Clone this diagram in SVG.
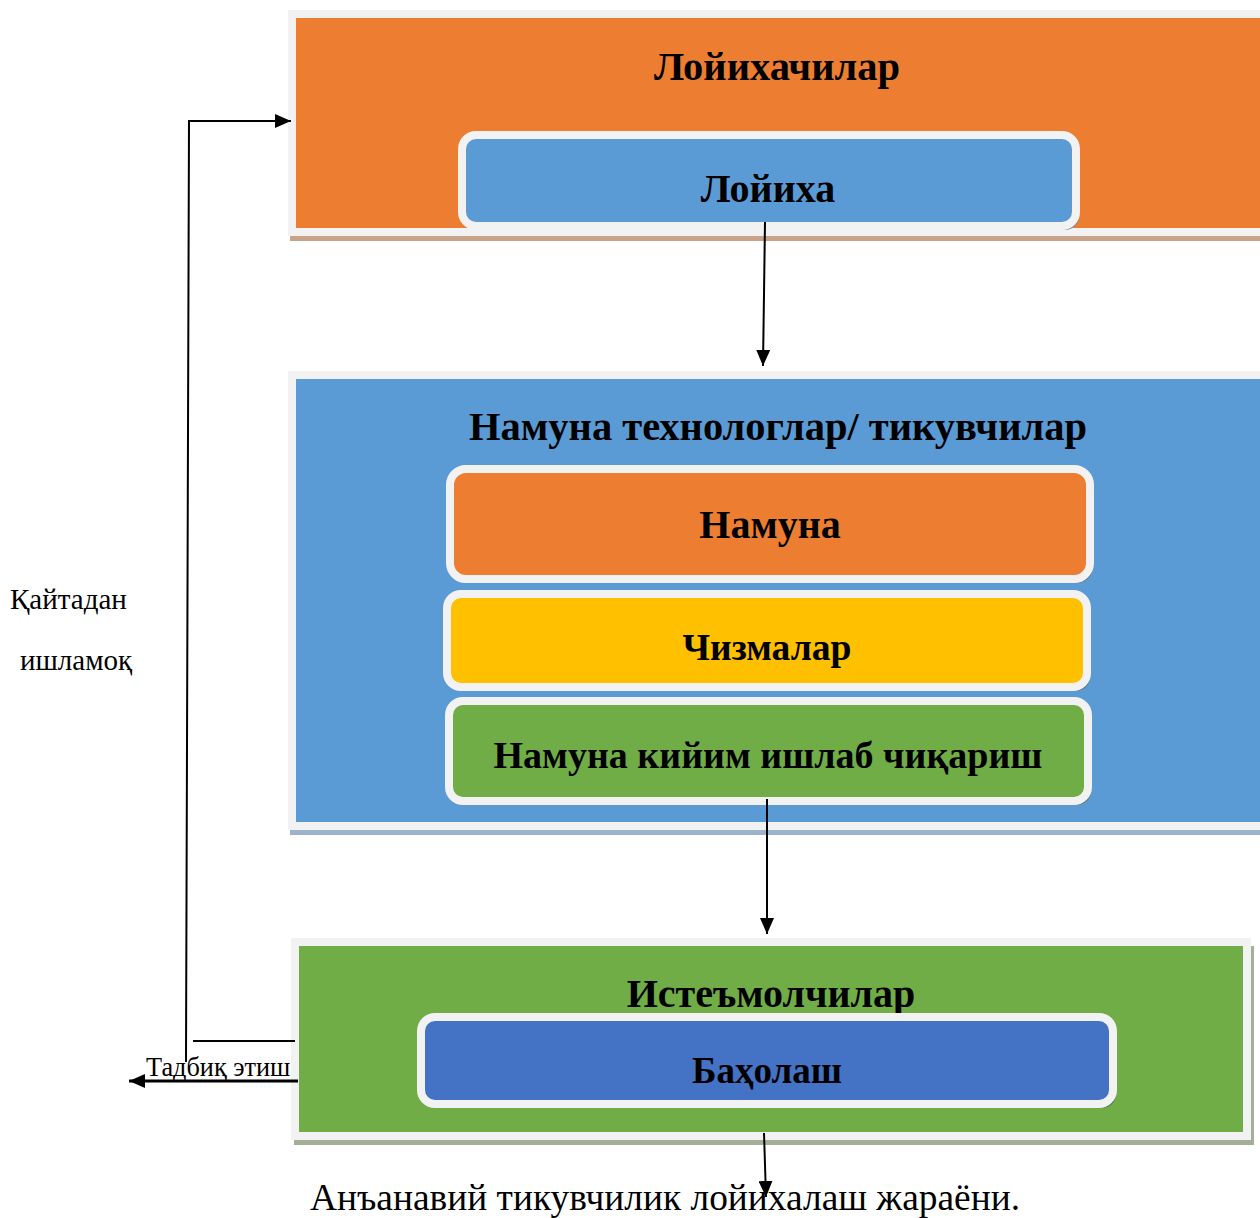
<svg xmlns="http://www.w3.org/2000/svg" width="1260" height="1218" viewBox="0 0 1260 1218">
<defs>
<style>
.big{stroke:#F2F2F2;stroke-width:8}
.inner{stroke:#F2F2F2;stroke-width:8}
.t{font-family:"Liberation Serif","Times New Roman",serif;font-weight:bold;fill:#000;text-anchor:middle;font-size:40.5px}
.n{font-family:"Liberation Serif","Times New Roman",serif;fill:#000}
.ln{stroke:#000;stroke-width:2;fill:none}
</style>
<marker id="ah" viewBox="0 0 16 14" refX="16" refY="7" markerWidth="16" markerHeight="14" markerUnits="userSpaceOnUse" orient="auto">
<path d="M0,0 L16,7 L0,14 Z" fill="#000"/>
</marker>
</defs>
<rect width="1260" height="1218" fill="#fff"/>

<g id="loyihachilar">
<rect x="290" y="22" width="1000" height="219" fill="#C9A28A"/>
<rect class="big" x="292" y="14" width="1000" height="218" fill="#ED7D31"/>
<text class="t" x="777" y="80">Лойихачилар</text>
</g>
<g id="loyiha">
<rect x="465" y="139" width="614" height="91" rx="14" fill="#7E8FA0"/>
<rect class="inner" x="462" y="135" width="614" height="91" rx="14" fill="#5B9BD5"/>
<text class="t" x="768" y="202" style="font-size:40px">Лойиха</text>
</g>

<g id="namuna-tex">
<rect x="290" y="383" width="1000" height="452" fill="#9DB3CB"/>
<rect class="big" x="292" y="375" width="1000" height="451" fill="#5B9BD5"/>
<text class="t" x="778" y="440">Намуна технологлар/ тикувчилар</text>
</g>
<g id="namuna">
<rect x="453" y="473" width="640" height="110" rx="16" fill="#6B7480"/>
<rect class="inner" x="450" y="469" width="640" height="110" rx="16" fill="#ED7D31"/>
<text class="t" x="770" y="538" style="font-size:40px">Намуна</text>
</g>
<g id="chizmalar">
<rect x="450" y="598" width="640" height="93" rx="14" fill="#6B7480"/>
<rect class="inner" x="447" y="594" width="640" height="93" rx="14" fill="#FFC000"/>
<text class="t" x="767" y="660" style="font-size:37.6px">Чизмалар</text>
</g>
<g id="namuna-kiyim">
<rect x="452" y="705" width="639" height="100" rx="14" fill="#5E7670"/>
<rect class="inner" x="449" y="701" width="639" height="100" rx="14" fill="#70AD47"/>
<text class="t" x="768" y="768" style="font-size:38px">Намуна кийим ишлаб чиқариш</text>
</g>

<g id="isteymolchilar">
<rect x="294" y="946" width="960" height="199" fill="#A3AF96"/>
<rect class="big" x="295" y="942" width="952" height="194" fill="#70AD47"/>
<text class="t" x="771" y="1007" style="font-size:40px">Истеъмолчилар</text>
</g>
<g id="baholash">
<rect x="424" y="1021" width="692" height="87" rx="14" fill="#4B7A55"/>
<rect class="inner" x="421" y="1017" width="692" height="87" rx="14" fill="#4472C4"/>
<text class="t" x="767" y="1083" style="font-size:37px">Баҳолаш</text>
</g>

<g id="connectors">
<line class="ln" x1="765" y1="222" x2="763" y2="366" marker-end="url(#ah)"/>
<line class="ln" x1="767" y1="799" x2="767" y2="934" marker-end="url(#ah)"/>
<line class="ln" x1="764" y1="1133" x2="766" y2="1197" marker-end="url(#ah)"/>
<polyline class="ln" points="186,1062 189,121 291,121" marker-end="url(#ah)"/>
<line class="ln" x1="193" y1="1041" x2="295" y2="1041"/>
<line x1="298" y1="1081" x2="129" y2="1081" stroke="#000" stroke-width="3" marker-end="url(#ah)"/>
</g>

<g id="labels">
<text class="n" x="10" y="609" font-size="29">Қайтадан</text>
<text class="n" x="20" y="670" font-size="29">ишламоқ</text>
<text class="n" x="146" y="1076" font-size="26.3">Тадбиқ этиш</text>
<text class="n" x="310" y="1210" font-size="37.4">Анъанавий тикувчилик лойихалаш жараёни.</text>
</g>
</svg>
